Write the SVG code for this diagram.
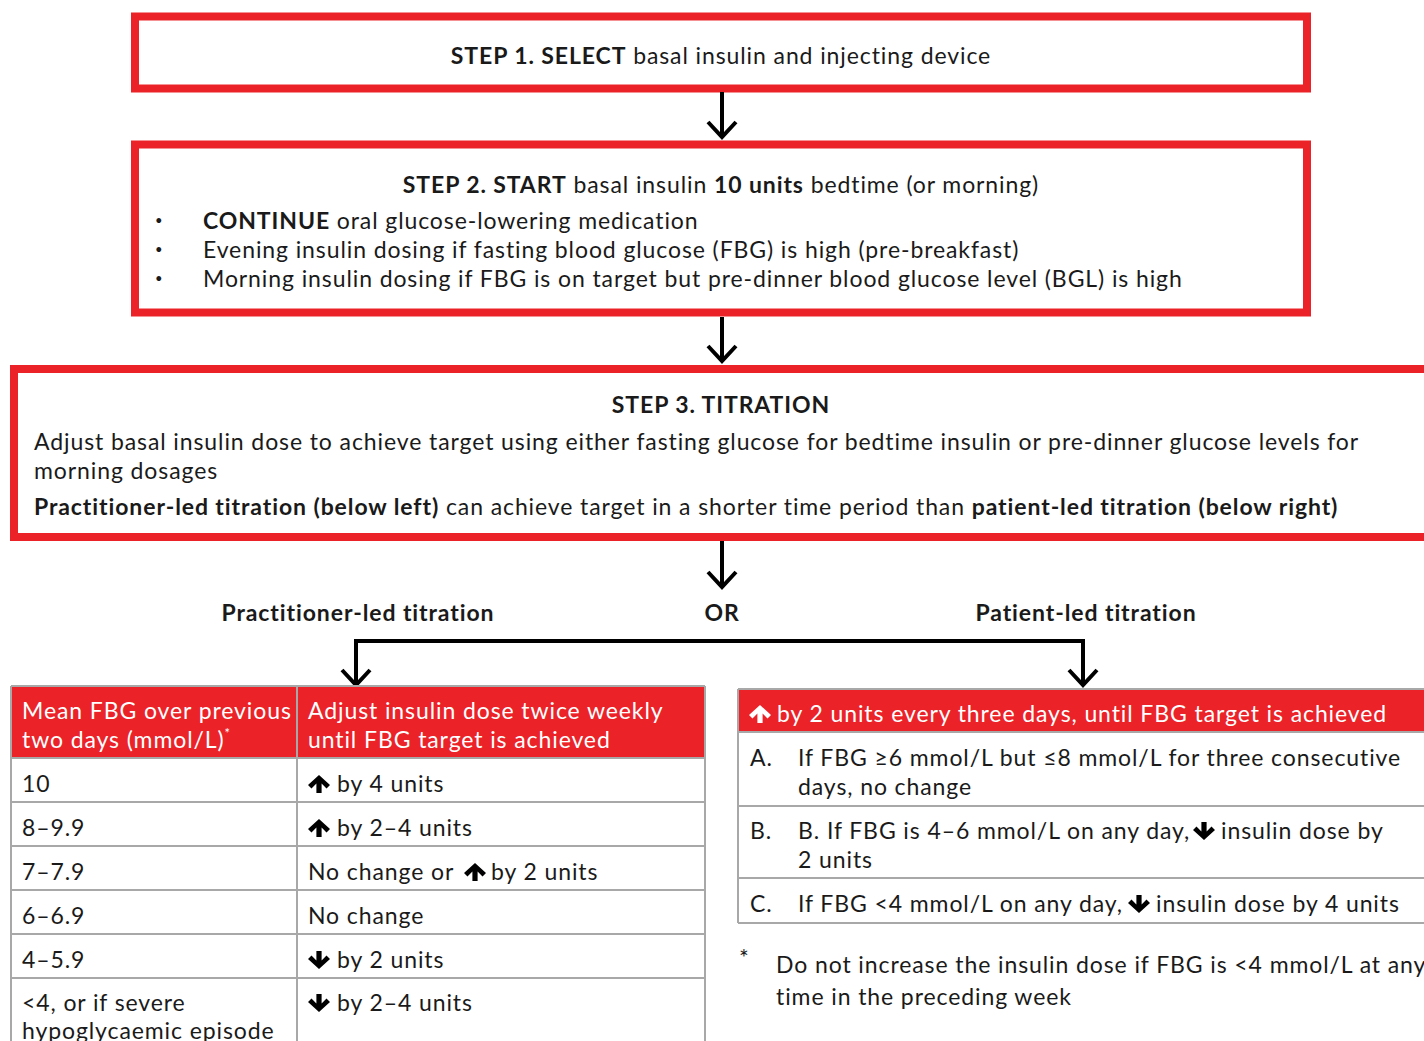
<svg xmlns="http://www.w3.org/2000/svg" width="1424" height="1041" viewBox="0 0 1424 1041">
<style>
text{font-family:Lato,"Open Sans","Liberation Sans",sans-serif;font-size:23px;fill:#1a1a1a;letter-spacing:0.9px}
.b{font-weight:700}
.c{text-anchor:middle}
.w{fill:#ffffff}
.dot{font-size:13px}
.box{fill:#ffffff;stroke:#ec2229;stroke-width:8}
.con{fill:none;stroke:#000;stroke-width:4}
.grid{fill:none;stroke:#a8a8a8;stroke-width:2}
.hdr{fill:#ec2229}
</style>
<defs>
<marker id="chev" markerUnits="userSpaceOnUse" viewBox="-20 -18 24 36" markerWidth="24" markerHeight="36" refX="0" refY="0" orient="auto" overflow="visible">
<path d="M-15,-14 L0,0 L-15,14" fill="none" stroke="#000" stroke-width="4"/>
</marker>
<path id="up" d="M11,0 L22,10 L18.5,13.5 L13.6,8.6 L13.6,18 L8.4,18 L8.4,8.6 L3.5,13.5 L0,10 Z" fill="#000"/>
<path id="down" d="M11,18 L22,8 L18.5,4.5 L13.6,9.4 L13.6,0 L8.4,0 L8.4,9.4 L3.5,4.5 L0,8 Z" fill="#000"/>
<path id="upw" d="M11,0 L22,10 L18.5,13.5 L13.6,8.6 L13.6,18 L8.4,18 L8.4,8.6 L3.5,13.5 L0,10 Z" fill="#fff"/>
</defs>

<g id="step1">
<rect class="box" x="135" y="16.5" width="1172" height="72"/>
<text class="c" x="721" y="64"><tspan class="b">STEP 1. SELECT</tspan> basal insulin and injecting device</text>
</g>

<g id="step2">
<rect class="box" x="135" y="144.5" width="1172" height="168"/>
<text class="c" x="721" y="193"><tspan class="b">STEP 2. START</tspan> basal insulin <tspan class="b">10 units</tspan> bedtime (or morning)</text>
<text class="dot" x="155" y="225">•</text>
<text class="dot" x="155" y="254">•</text>
<text class="dot" x="155" y="283">•</text>
<text x="203" y="229"><tspan class="b">CONTINUE</tspan> oral glucose-lowering medication</text>
<text x="203" y="258">Evening insulin dosing if fasting blood glucose (FBG) is high (pre-breakfast)</text>
<text x="203" y="287">Morning insulin dosing if FBG is on target but pre-dinner blood glucose level (BGL) is high</text>
</g>

<g id="step3">
<rect class="box" x="14" y="369" width="1430" height="168"/>
<text class="c b" x="721" y="413">STEP 3. TITRATION</text>
<text x="34" y="450">Adjust basal insulin dose to achieve target using either fasting glucose for bedtime insulin or pre-dinner glucose levels for</text>
<text x="34" y="479">morning dosages</text>
<text x="34" y="515"><tspan class="b">Practitioner-led titration (below left)</tspan> can achieve target in a shorter time period than <tspan class="b">patient-led titration (below right)</tspan></text>
</g>

<g id="labels">
<text class="c b" x="358" y="621">Practitioner-led titration</text>
<text class="c b" x="722" y="621">OR</text>
<text class="c b" x="1086" y="621">Patient-led titration</text>
</g>

<g id="connectors">
<path class="con" d="M722,92 V137" marker-end="url(#chev)"/>
<path class="con" d="M722,317 V361" marker-end="url(#chev)"/>
<path class="con" d="M722,541 V587" marker-end="url(#chev)"/>
<path class="con" d="M356,685 V641 H1083 V685" />
<path class="con" d="M356,641 V685" marker-end="url(#chev)"/>
<path class="con" d="M1083,641 V685" marker-end="url(#chev)"/>
</g>

<g id="practitioner-table">
<rect class="hdr" x="11" y="686" width="694" height="72"/>
<path class="grid" d="M11,686 H705 M11,758 H705 M11,802 H705 M11,846 H705 M11,890 H705 M11,934 H705 M11,978 H705 M11,686 V1045 M297,686 V1045 M705,686 V1045"/>
<text class="w" x="22" y="719">Mean FBG over previous</text>
<text class="w" x="22" y="748">two days (mmol/L)<tspan font-size="13" dy="-10">*</tspan></text>
<text class="w" x="308" y="719">Adjust insulin dose twice weekly</text>
<text class="w" x="308" y="748">until FBG target is achieved</text>
<text x="22" y="792">10</text>
<text x="22" y="836">8–9.9</text>
<text x="22" y="880">7–7.9</text>
<text x="22" y="924">6–6.9</text>
<text x="22" y="968">4–5.9</text>
<text x="22" y="1011">&lt;4, or if severe</text>
<text x="22" y="1039">hypoglycaemic episode</text>
<use href="#up" x="308" y="775"/>
<text x="337" y="792">by 4 units</text>
<use href="#up" x="308" y="819"/>
<text x="337" y="836">by 2–4 units</text>
<text x="308" y="880">No change or</text>
<use href="#up" x="464" y="863"/>
<text x="491" y="880">by 2 units</text>
<text x="308" y="924">No change</text>
<use href="#down" x="308" y="951"/>
<text x="337" y="968">by 2 units</text>
<use href="#down" x="308" y="994"/>
<text x="337" y="1011">by 2–4 units</text>
</g>

<g id="patient-table">
<rect class="hdr" x="738" y="690" width="700" height="42"/>
<path class="grid" d="M738,689 H1430 M738,732 H1430 M738,806 H1430 M738,878 H1430 M738,923 H1430 M738,689 V923"/>
<use href="#upw" x="749" y="705"/>
<text class="w" x="777" y="722">by 2 units every three days, until FBG target is achieved</text>
<text x="750" y="766">A.</text>
<text x="798" y="766">If FBG ≥6 mmol/L but ≤8 mmol/L for three consecutive</text>
<text x="798" y="795">days, no change</text>
<text x="750" y="839">B.</text>
<text x="798" y="839">B. If FBG is 4–6 mmol/L on any day,</text>
<use href="#down" x="1193" y="822"/>
<text x="1221" y="839">insulin dose by</text>
<text x="798" y="868">2 units</text>
<text x="750" y="912">C.</text>
<text x="798" y="912">If FBG &lt;4 mmol/L on any day,</text>
<use href="#down" x="1128" y="895"/>
<text x="1156" y="912">insulin dose by 4 units</text>
</g>

<g id="footnote">
<text x="739" y="966" font-size="14">*</text>
<text x="776" y="973">Do not increase the insulin dose if FBG is &lt;4 mmol/L at any</text>
<text x="776" y="1005">time in the preceding week</text>
</g>
</svg>
